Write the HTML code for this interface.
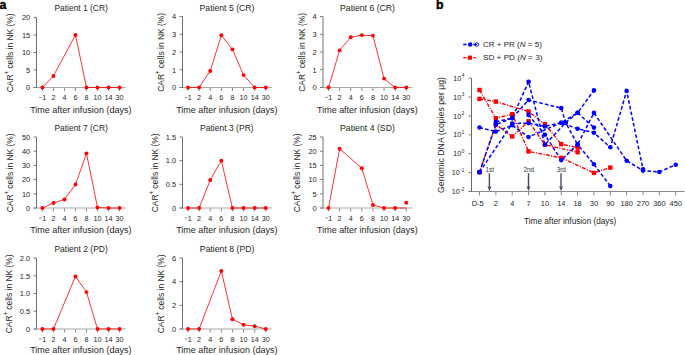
<!DOCTYPE html>
<html><head><meta charset="utf-8"><style>
html,body{margin:0;padding:0;background:#fff;overflow:hidden;width:685px;height:355px;}
svg{display:block;font-family:"Liberation Sans", sans-serif;}
</style></head><body>
<svg width="685" height="355" viewBox="0 0 685 355">
<rect width="685" height="355" fill="#fff"/>
<text x="54.45" y="10.50" font-size="8.4" textLength="53.4" lengthAdjust="spacingAndGlyphs" fill="#231f20">Patient 1 (CR)</text>
<line x1="33.50" y1="87.50" x2="125.80" y2="87.50" stroke="#a8a8a8" stroke-width="1.1"/>
<line x1="36.50" y1="17.40" x2="36.50" y2="88.00" stroke="#707070" stroke-width="1"/>
<line x1="33.50" y1="87.50" x2="36.50" y2="87.50" stroke="#7a7a7a" stroke-width="1"/>
<text x="30.20" y="90.25" font-size="7.7" text-anchor="end" textLength="4.15" lengthAdjust="spacingAndGlyphs" fill="#231f20">0</text>
<line x1="33.50" y1="69.97" x2="36.50" y2="69.97" stroke="#7a7a7a" stroke-width="1"/>
<text x="30.20" y="72.72" font-size="7.7" text-anchor="end" textLength="4.15" lengthAdjust="spacingAndGlyphs" fill="#231f20">5</text>
<line x1="33.50" y1="52.45" x2="36.50" y2="52.45" stroke="#7a7a7a" stroke-width="1"/>
<text x="30.20" y="55.20" font-size="7.7" text-anchor="end" textLength="8.31" lengthAdjust="spacingAndGlyphs" fill="#231f20">10</text>
<line x1="33.50" y1="34.93" x2="36.50" y2="34.93" stroke="#7a7a7a" stroke-width="1"/>
<text x="30.20" y="37.68" font-size="7.7" text-anchor="end" textLength="8.31" lengthAdjust="spacingAndGlyphs" fill="#231f20">15</text>
<line x1="33.50" y1="17.40" x2="36.50" y2="17.40" stroke="#7a7a7a" stroke-width="1"/>
<text x="30.20" y="20.15" font-size="7.7" text-anchor="end" textLength="8.31" lengthAdjust="spacingAndGlyphs" fill="#231f20">20</text>
<line x1="42.40" y1="87.90" x2="42.40" y2="90.90" stroke="#858585" stroke-width="1"/>
<line x1="39.10" y1="97.45" x2="41.70" y2="97.45" stroke="#444" stroke-width="0.6"/>
<text x="42.20" y="100.20" font-size="7.7" textLength="3.98" lengthAdjust="spacingAndGlyphs" fill="#231f20">1</text>
<line x1="53.42" y1="87.90" x2="53.42" y2="90.90" stroke="#858585" stroke-width="1"/>
<text x="53.42" y="100.20" font-size="7.7" text-anchor="middle" textLength="3.98" lengthAdjust="spacingAndGlyphs" fill="#231f20">2</text>
<line x1="64.44" y1="87.90" x2="64.44" y2="90.90" stroke="#858585" stroke-width="1"/>
<text x="64.44" y="100.20" font-size="7.7" text-anchor="middle" textLength="3.98" lengthAdjust="spacingAndGlyphs" fill="#231f20">4</text>
<line x1="75.46" y1="87.90" x2="75.46" y2="90.90" stroke="#858585" stroke-width="1"/>
<text x="75.46" y="100.20" font-size="7.7" text-anchor="middle" textLength="3.98" lengthAdjust="spacingAndGlyphs" fill="#231f20">6</text>
<line x1="86.48" y1="87.90" x2="86.48" y2="90.90" stroke="#858585" stroke-width="1"/>
<text x="86.48" y="100.20" font-size="7.7" text-anchor="middle" textLength="3.98" lengthAdjust="spacingAndGlyphs" fill="#231f20">8</text>
<line x1="97.50" y1="87.90" x2="97.50" y2="90.90" stroke="#858585" stroke-width="1"/>
<text x="97.50" y="100.20" font-size="7.7" text-anchor="middle" textLength="7.96" lengthAdjust="spacingAndGlyphs" fill="#231f20">10</text>
<line x1="108.52" y1="87.90" x2="108.52" y2="90.90" stroke="#858585" stroke-width="1"/>
<text x="108.52" y="100.20" font-size="7.7" text-anchor="middle" textLength="7.96" lengthAdjust="spacingAndGlyphs" fill="#231f20">14</text>
<line x1="119.54" y1="87.90" x2="119.54" y2="90.90" stroke="#858585" stroke-width="1"/>
<text x="119.54" y="100.20" font-size="7.7" text-anchor="middle" textLength="7.96" lengthAdjust="spacingAndGlyphs" fill="#231f20">30</text>
<text x="30.20" y="112.90" font-size="9.2" textLength="101.2" lengthAdjust="spacingAndGlyphs" fill="#231f20">Time after infusion (days)</text>
<text transform="translate(13.00,52.85) rotate(-90)" x="0" y="0" font-size="9" text-anchor="middle" fill="#231f20" textLength="78.8" lengthAdjust="spacingAndGlyphs">CAR<tspan font-size="6.5" dy="-4.0">+</tspan><tspan dy="4.0"> cells in NK (%)</tspan></text>
<polyline fill="none" stroke="#ff0000" stroke-width="0.8" stroke-linejoin="round" points="42.40,87.50 53.42,75.93 75.46,34.93 86.48,87.50 97.50,87.50 108.52,87.50 119.54,87.50"/>
<circle cx="42.40" cy="87.50" r="1.95" fill="#ff0000"/>
<circle cx="53.42" cy="75.93" r="1.95" fill="#ff0000"/>
<circle cx="75.46" cy="34.93" r="1.95" fill="#ff0000"/>
<circle cx="86.48" cy="87.50" r="1.95" fill="#ff0000"/>
<circle cx="97.50" cy="87.50" r="1.95" fill="#ff0000"/>
<circle cx="108.52" cy="87.50" r="1.95" fill="#ff0000"/>
<circle cx="119.54" cy="87.50" r="1.95" fill="#ff0000"/>
<text x="199.55" y="10.50" font-size="8.4" textLength="54.9" lengthAdjust="spacingAndGlyphs" fill="#231f20">Patient 5 (CR)</text>
<line x1="179.50" y1="87.50" x2="271.70" y2="87.50" stroke="#a8a8a8" stroke-width="1.1"/>
<line x1="182.50" y1="16.50" x2="182.50" y2="88.00" stroke="#707070" stroke-width="1"/>
<line x1="179.50" y1="87.50" x2="182.50" y2="87.50" stroke="#7a7a7a" stroke-width="1"/>
<text x="176.20" y="90.25" font-size="7.7" text-anchor="end" textLength="4.15" lengthAdjust="spacingAndGlyphs" fill="#231f20">0</text>
<line x1="179.50" y1="69.75" x2="182.50" y2="69.75" stroke="#7a7a7a" stroke-width="1"/>
<text x="176.20" y="72.50" font-size="7.7" text-anchor="end" textLength="4.15" lengthAdjust="spacingAndGlyphs" fill="#231f20">1</text>
<line x1="179.50" y1="52.00" x2="182.50" y2="52.00" stroke="#7a7a7a" stroke-width="1"/>
<text x="176.20" y="54.75" font-size="7.7" text-anchor="end" textLength="4.15" lengthAdjust="spacingAndGlyphs" fill="#231f20">2</text>
<line x1="179.50" y1="34.25" x2="182.50" y2="34.25" stroke="#7a7a7a" stroke-width="1"/>
<text x="176.20" y="37.00" font-size="7.7" text-anchor="end" textLength="4.15" lengthAdjust="spacingAndGlyphs" fill="#231f20">3</text>
<line x1="179.50" y1="16.50" x2="182.50" y2="16.50" stroke="#7a7a7a" stroke-width="1"/>
<text x="176.20" y="19.25" font-size="7.7" text-anchor="end" textLength="4.15" lengthAdjust="spacingAndGlyphs" fill="#231f20">4</text>
<line x1="188.00" y1="87.90" x2="188.00" y2="90.90" stroke="#858585" stroke-width="1"/>
<line x1="184.70" y1="97.45" x2="187.30" y2="97.45" stroke="#444" stroke-width="0.6"/>
<text x="187.80" y="100.20" font-size="7.7" textLength="3.98" lengthAdjust="spacingAndGlyphs" fill="#231f20">1</text>
<line x1="199.11" y1="87.90" x2="199.11" y2="90.90" stroke="#858585" stroke-width="1"/>
<text x="199.11" y="100.20" font-size="7.7" text-anchor="middle" textLength="3.98" lengthAdjust="spacingAndGlyphs" fill="#231f20">2</text>
<line x1="210.22" y1="87.90" x2="210.22" y2="90.90" stroke="#858585" stroke-width="1"/>
<text x="210.22" y="100.20" font-size="7.7" text-anchor="middle" textLength="3.98" lengthAdjust="spacingAndGlyphs" fill="#231f20">4</text>
<line x1="221.33" y1="87.90" x2="221.33" y2="90.90" stroke="#858585" stroke-width="1"/>
<text x="221.33" y="100.20" font-size="7.7" text-anchor="middle" textLength="3.98" lengthAdjust="spacingAndGlyphs" fill="#231f20">6</text>
<line x1="232.44" y1="87.90" x2="232.44" y2="90.90" stroke="#858585" stroke-width="1"/>
<text x="232.44" y="100.20" font-size="7.7" text-anchor="middle" textLength="3.98" lengthAdjust="spacingAndGlyphs" fill="#231f20">8</text>
<line x1="243.55" y1="87.90" x2="243.55" y2="90.90" stroke="#858585" stroke-width="1"/>
<text x="243.55" y="100.20" font-size="7.7" text-anchor="middle" textLength="7.96" lengthAdjust="spacingAndGlyphs" fill="#231f20">10</text>
<line x1="254.66" y1="87.90" x2="254.66" y2="90.90" stroke="#858585" stroke-width="1"/>
<text x="254.66" y="100.20" font-size="7.7" text-anchor="middle" textLength="7.96" lengthAdjust="spacingAndGlyphs" fill="#231f20">14</text>
<line x1="265.77" y1="87.90" x2="265.77" y2="90.90" stroke="#858585" stroke-width="1"/>
<text x="265.77" y="100.20" font-size="7.7" text-anchor="middle" textLength="7.96" lengthAdjust="spacingAndGlyphs" fill="#231f20">30</text>
<text x="176.20" y="112.90" font-size="9.2" textLength="101.2" lengthAdjust="spacingAndGlyphs" fill="#231f20">Time after infusion (days)</text>
<text transform="translate(164.30,52.40) rotate(-90)" x="0" y="0" font-size="9" text-anchor="middle" fill="#231f20" textLength="78.8" lengthAdjust="spacingAndGlyphs">CAR<tspan font-size="6.5" dy="-4.0">+</tspan><tspan dy="4.0"> cells in NK (%)</tspan></text>
<polyline fill="none" stroke="#ff0000" stroke-width="0.8" stroke-linejoin="round" points="188.00,87.50 199.11,87.50 210.22,70.99 221.33,35.31 232.44,49.34 243.55,75.08 254.66,87.50 265.77,87.50"/>
<circle cx="188.00" cy="87.50" r="1.95" fill="#ff0000"/>
<circle cx="199.11" cy="87.50" r="1.95" fill="#ff0000"/>
<circle cx="210.22" cy="70.99" r="1.95" fill="#ff0000"/>
<circle cx="221.33" cy="35.31" r="1.95" fill="#ff0000"/>
<circle cx="232.44" cy="49.34" r="1.95" fill="#ff0000"/>
<circle cx="243.55" cy="75.08" r="1.95" fill="#ff0000"/>
<circle cx="254.66" cy="87.50" r="1.95" fill="#ff0000"/>
<circle cx="265.77" cy="87.50" r="1.95" fill="#ff0000"/>
<text x="340.05" y="10.50" font-size="8.4" textLength="54.9" lengthAdjust="spacingAndGlyphs" fill="#231f20">Patient 6 (CR)</text>
<line x1="320.00" y1="87.50" x2="412.40" y2="87.50" stroke="#a8a8a8" stroke-width="1.1"/>
<line x1="323.00" y1="16.50" x2="323.00" y2="88.00" stroke="#707070" stroke-width="1"/>
<line x1="320.00" y1="87.50" x2="323.00" y2="87.50" stroke="#7a7a7a" stroke-width="1"/>
<text x="316.70" y="90.25" font-size="7.7" text-anchor="end" textLength="4.15" lengthAdjust="spacingAndGlyphs" fill="#231f20">0</text>
<line x1="320.00" y1="69.75" x2="323.00" y2="69.75" stroke="#7a7a7a" stroke-width="1"/>
<text x="316.70" y="72.50" font-size="7.7" text-anchor="end" textLength="4.15" lengthAdjust="spacingAndGlyphs" fill="#231f20">1</text>
<line x1="320.00" y1="52.00" x2="323.00" y2="52.00" stroke="#7a7a7a" stroke-width="1"/>
<text x="316.70" y="54.75" font-size="7.7" text-anchor="end" textLength="4.15" lengthAdjust="spacingAndGlyphs" fill="#231f20">2</text>
<line x1="320.00" y1="34.25" x2="323.00" y2="34.25" stroke="#7a7a7a" stroke-width="1"/>
<text x="316.70" y="37.00" font-size="7.7" text-anchor="end" textLength="4.15" lengthAdjust="spacingAndGlyphs" fill="#231f20">3</text>
<line x1="320.00" y1="16.50" x2="323.00" y2="16.50" stroke="#7a7a7a" stroke-width="1"/>
<text x="316.70" y="19.25" font-size="7.7" text-anchor="end" textLength="4.15" lengthAdjust="spacingAndGlyphs" fill="#231f20">4</text>
<line x1="328.50" y1="87.90" x2="328.50" y2="90.90" stroke="#858585" stroke-width="1"/>
<line x1="325.20" y1="97.45" x2="327.80" y2="97.45" stroke="#444" stroke-width="0.6"/>
<text x="328.30" y="100.20" font-size="7.7" textLength="3.98" lengthAdjust="spacingAndGlyphs" fill="#231f20">1</text>
<line x1="339.61" y1="87.90" x2="339.61" y2="90.90" stroke="#858585" stroke-width="1"/>
<text x="339.61" y="100.20" font-size="7.7" text-anchor="middle" textLength="3.98" lengthAdjust="spacingAndGlyphs" fill="#231f20">2</text>
<line x1="350.72" y1="87.90" x2="350.72" y2="90.90" stroke="#858585" stroke-width="1"/>
<text x="350.72" y="100.20" font-size="7.7" text-anchor="middle" textLength="3.98" lengthAdjust="spacingAndGlyphs" fill="#231f20">4</text>
<line x1="361.83" y1="87.90" x2="361.83" y2="90.90" stroke="#858585" stroke-width="1"/>
<text x="361.83" y="100.20" font-size="7.7" text-anchor="middle" textLength="3.98" lengthAdjust="spacingAndGlyphs" fill="#231f20">6</text>
<line x1="372.94" y1="87.90" x2="372.94" y2="90.90" stroke="#858585" stroke-width="1"/>
<text x="372.94" y="100.20" font-size="7.7" text-anchor="middle" textLength="3.98" lengthAdjust="spacingAndGlyphs" fill="#231f20">8</text>
<line x1="384.05" y1="87.90" x2="384.05" y2="90.90" stroke="#858585" stroke-width="1"/>
<text x="384.05" y="100.20" font-size="7.7" text-anchor="middle" textLength="7.96" lengthAdjust="spacingAndGlyphs" fill="#231f20">10</text>
<line x1="395.16" y1="87.90" x2="395.16" y2="90.90" stroke="#858585" stroke-width="1"/>
<text x="395.16" y="100.20" font-size="7.7" text-anchor="middle" textLength="7.96" lengthAdjust="spacingAndGlyphs" fill="#231f20">14</text>
<line x1="406.27" y1="87.90" x2="406.27" y2="90.90" stroke="#858585" stroke-width="1"/>
<text x="406.27" y="100.20" font-size="7.7" text-anchor="middle" textLength="7.96" lengthAdjust="spacingAndGlyphs" fill="#231f20">30</text>
<text x="317.10" y="112.90" font-size="9.2" textLength="100.60000000000001" lengthAdjust="spacingAndGlyphs" fill="#231f20">Time after infusion (days)</text>
<text transform="translate(304.70,52.40) rotate(-90)" x="0" y="0" font-size="9" text-anchor="middle" fill="#231f20" textLength="78.8" lengthAdjust="spacingAndGlyphs">CAR<tspan font-size="6.5" dy="-4.0">+</tspan><tspan dy="4.0"> cells in NK (%)</tspan></text>
<polyline fill="none" stroke="#ff0000" stroke-width="0.8" stroke-linejoin="round" points="328.50,87.50 339.61,50.40 350.72,37.27 361.83,35.14 372.94,35.67 384.05,78.62 395.16,87.50 406.27,87.50"/>
<circle cx="328.50" cy="87.50" r="1.95" fill="#ff0000"/>
<circle cx="339.61" cy="50.40" r="1.95" fill="#ff0000"/>
<circle cx="350.72" cy="37.27" r="1.95" fill="#ff0000"/>
<circle cx="361.83" cy="35.14" r="1.95" fill="#ff0000"/>
<circle cx="372.94" cy="35.67" r="1.95" fill="#ff0000"/>
<circle cx="384.05" cy="78.62" r="1.95" fill="#ff0000"/>
<circle cx="395.16" cy="87.50" r="1.95" fill="#ff0000"/>
<circle cx="406.27" cy="87.50" r="1.95" fill="#ff0000"/>
<text x="54.45" y="131.00" font-size="8.4" textLength="53.4" lengthAdjust="spacingAndGlyphs" fill="#231f20">Patient 7 (CR)</text>
<line x1="33.50" y1="208.00" x2="125.80" y2="208.00" stroke="#a8a8a8" stroke-width="1.1"/>
<line x1="36.50" y1="137.00" x2="36.50" y2="208.50" stroke="#707070" stroke-width="1"/>
<line x1="33.50" y1="208.00" x2="36.50" y2="208.00" stroke="#7a7a7a" stroke-width="1"/>
<text x="30.20" y="210.75" font-size="7.7" text-anchor="end" textLength="4.15" lengthAdjust="spacingAndGlyphs" fill="#231f20">0</text>
<line x1="33.50" y1="193.80" x2="36.50" y2="193.80" stroke="#7a7a7a" stroke-width="1"/>
<text x="30.20" y="196.55" font-size="7.7" text-anchor="end" textLength="8.31" lengthAdjust="spacingAndGlyphs" fill="#231f20">10</text>
<line x1="33.50" y1="179.60" x2="36.50" y2="179.60" stroke="#7a7a7a" stroke-width="1"/>
<text x="30.20" y="182.35" font-size="7.7" text-anchor="end" textLength="8.31" lengthAdjust="spacingAndGlyphs" fill="#231f20">20</text>
<line x1="33.50" y1="165.40" x2="36.50" y2="165.40" stroke="#7a7a7a" stroke-width="1"/>
<text x="30.20" y="168.15" font-size="7.7" text-anchor="end" textLength="8.31" lengthAdjust="spacingAndGlyphs" fill="#231f20">30</text>
<line x1="33.50" y1="151.20" x2="36.50" y2="151.20" stroke="#7a7a7a" stroke-width="1"/>
<text x="30.20" y="153.95" font-size="7.7" text-anchor="end" textLength="8.31" lengthAdjust="spacingAndGlyphs" fill="#231f20">40</text>
<line x1="33.50" y1="137.00" x2="36.50" y2="137.00" stroke="#7a7a7a" stroke-width="1"/>
<text x="30.20" y="139.75" font-size="7.7" text-anchor="end" textLength="8.31" lengthAdjust="spacingAndGlyphs" fill="#231f20">50</text>
<line x1="42.40" y1="208.40" x2="42.40" y2="211.40" stroke="#858585" stroke-width="1"/>
<line x1="39.10" y1="217.95" x2="41.70" y2="217.95" stroke="#444" stroke-width="0.6"/>
<text x="42.20" y="220.70" font-size="7.7" textLength="3.98" lengthAdjust="spacingAndGlyphs" fill="#231f20">1</text>
<line x1="53.42" y1="208.40" x2="53.42" y2="211.40" stroke="#858585" stroke-width="1"/>
<text x="53.42" y="220.70" font-size="7.7" text-anchor="middle" textLength="3.98" lengthAdjust="spacingAndGlyphs" fill="#231f20">2</text>
<line x1="64.44" y1="208.40" x2="64.44" y2="211.40" stroke="#858585" stroke-width="1"/>
<text x="64.44" y="220.70" font-size="7.7" text-anchor="middle" textLength="3.98" lengthAdjust="spacingAndGlyphs" fill="#231f20">4</text>
<line x1="75.46" y1="208.40" x2="75.46" y2="211.40" stroke="#858585" stroke-width="1"/>
<text x="75.46" y="220.70" font-size="7.7" text-anchor="middle" textLength="3.98" lengthAdjust="spacingAndGlyphs" fill="#231f20">6</text>
<line x1="86.48" y1="208.40" x2="86.48" y2="211.40" stroke="#858585" stroke-width="1"/>
<text x="86.48" y="220.70" font-size="7.7" text-anchor="middle" textLength="3.98" lengthAdjust="spacingAndGlyphs" fill="#231f20">8</text>
<line x1="97.50" y1="208.40" x2="97.50" y2="211.40" stroke="#858585" stroke-width="1"/>
<text x="97.50" y="220.70" font-size="7.7" text-anchor="middle" textLength="7.96" lengthAdjust="spacingAndGlyphs" fill="#231f20">10</text>
<line x1="108.52" y1="208.40" x2="108.52" y2="211.40" stroke="#858585" stroke-width="1"/>
<text x="108.52" y="220.70" font-size="7.7" text-anchor="middle" textLength="7.96" lengthAdjust="spacingAndGlyphs" fill="#231f20">14</text>
<line x1="119.54" y1="208.40" x2="119.54" y2="211.40" stroke="#858585" stroke-width="1"/>
<text x="119.54" y="220.70" font-size="7.7" text-anchor="middle" textLength="7.96" lengthAdjust="spacingAndGlyphs" fill="#231f20">30</text>
<text x="30.20" y="233.40" font-size="9.2" textLength="101.2" lengthAdjust="spacingAndGlyphs" fill="#231f20">Time after infusion (days)</text>
<text transform="translate(13.00,172.90) rotate(-90)" x="0" y="0" font-size="9" text-anchor="middle" fill="#231f20" textLength="78.8" lengthAdjust="spacingAndGlyphs">CAR<tspan font-size="6.5" dy="-4.0">+</tspan><tspan dy="4.0"> cells in NK (%)</tspan></text>
<polyline fill="none" stroke="#ff0000" stroke-width="0.8" stroke-linejoin="round" points="42.40,208.00 53.42,203.03 64.44,199.48 75.46,184.57 86.48,153.33 97.50,207.43 108.52,208.00 119.54,208.00"/>
<circle cx="42.40" cy="208.00" r="1.95" fill="#ff0000"/>
<circle cx="53.42" cy="203.03" r="1.95" fill="#ff0000"/>
<circle cx="64.44" cy="199.48" r="1.95" fill="#ff0000"/>
<circle cx="75.46" cy="184.57" r="1.95" fill="#ff0000"/>
<circle cx="86.48" cy="153.33" r="1.95" fill="#ff0000"/>
<circle cx="97.50" cy="207.43" r="1.95" fill="#ff0000"/>
<circle cx="108.52" cy="208.00" r="1.95" fill="#ff0000"/>
<circle cx="119.54" cy="208.00" r="1.95" fill="#ff0000"/>
<text x="200.05" y="131.00" font-size="8.4" textLength="53.6" lengthAdjust="spacingAndGlyphs" fill="#231f20">Patient 3 (PR)</text>
<line x1="179.50" y1="208.00" x2="271.70" y2="208.00" stroke="#a8a8a8" stroke-width="1.1"/>
<line x1="182.50" y1="137.00" x2="182.50" y2="208.50" stroke="#707070" stroke-width="1"/>
<line x1="179.50" y1="208.00" x2="182.50" y2="208.00" stroke="#7a7a7a" stroke-width="1"/>
<text x="176.20" y="210.75" font-size="7.7" text-anchor="end" textLength="4.15" lengthAdjust="spacingAndGlyphs" fill="#231f20">0</text>
<line x1="179.50" y1="184.33" x2="182.50" y2="184.33" stroke="#7a7a7a" stroke-width="1"/>
<text x="176.20" y="187.08" font-size="7.7" text-anchor="end" textLength="10.38" lengthAdjust="spacingAndGlyphs" fill="#231f20">0.5</text>
<line x1="179.50" y1="160.67" x2="182.50" y2="160.67" stroke="#7a7a7a" stroke-width="1"/>
<text x="176.20" y="163.42" font-size="7.7" text-anchor="end" textLength="10.38" lengthAdjust="spacingAndGlyphs" fill="#231f20">1.0</text>
<line x1="179.50" y1="137.00" x2="182.50" y2="137.00" stroke="#7a7a7a" stroke-width="1"/>
<text x="176.20" y="139.75" font-size="7.7" text-anchor="end" textLength="10.38" lengthAdjust="spacingAndGlyphs" fill="#231f20">1.5</text>
<line x1="188.00" y1="208.40" x2="188.00" y2="211.40" stroke="#858585" stroke-width="1"/>
<line x1="184.70" y1="217.95" x2="187.30" y2="217.95" stroke="#444" stroke-width="0.6"/>
<text x="187.80" y="220.70" font-size="7.7" textLength="3.98" lengthAdjust="spacingAndGlyphs" fill="#231f20">1</text>
<line x1="199.11" y1="208.40" x2="199.11" y2="211.40" stroke="#858585" stroke-width="1"/>
<text x="199.11" y="220.70" font-size="7.7" text-anchor="middle" textLength="3.98" lengthAdjust="spacingAndGlyphs" fill="#231f20">2</text>
<line x1="210.22" y1="208.40" x2="210.22" y2="211.40" stroke="#858585" stroke-width="1"/>
<text x="210.22" y="220.70" font-size="7.7" text-anchor="middle" textLength="3.98" lengthAdjust="spacingAndGlyphs" fill="#231f20">4</text>
<line x1="221.33" y1="208.40" x2="221.33" y2="211.40" stroke="#858585" stroke-width="1"/>
<text x="221.33" y="220.70" font-size="7.7" text-anchor="middle" textLength="3.98" lengthAdjust="spacingAndGlyphs" fill="#231f20">6</text>
<line x1="232.44" y1="208.40" x2="232.44" y2="211.40" stroke="#858585" stroke-width="1"/>
<text x="232.44" y="220.70" font-size="7.7" text-anchor="middle" textLength="3.98" lengthAdjust="spacingAndGlyphs" fill="#231f20">8</text>
<line x1="243.55" y1="208.40" x2="243.55" y2="211.40" stroke="#858585" stroke-width="1"/>
<text x="243.55" y="220.70" font-size="7.7" text-anchor="middle" textLength="7.96" lengthAdjust="spacingAndGlyphs" fill="#231f20">10</text>
<line x1="254.66" y1="208.40" x2="254.66" y2="211.40" stroke="#858585" stroke-width="1"/>
<text x="254.66" y="220.70" font-size="7.7" text-anchor="middle" textLength="7.96" lengthAdjust="spacingAndGlyphs" fill="#231f20">14</text>
<line x1="265.77" y1="208.40" x2="265.77" y2="211.40" stroke="#858585" stroke-width="1"/>
<text x="265.77" y="220.70" font-size="7.7" text-anchor="middle" textLength="7.96" lengthAdjust="spacingAndGlyphs" fill="#231f20">30</text>
<text x="176.20" y="233.40" font-size="9.2" textLength="101.2" lengthAdjust="spacingAndGlyphs" fill="#231f20">Time after infusion (days)</text>
<text transform="translate(157.70,172.90) rotate(-90)" x="0" y="0" font-size="9" text-anchor="middle" fill="#231f20" textLength="78.8" lengthAdjust="spacingAndGlyphs">CAR<tspan font-size="6.5" dy="-4.0">+</tspan><tspan dy="4.0"> cells in NK (%)</tspan></text>
<polyline fill="none" stroke="#ff0000" stroke-width="0.8" stroke-linejoin="round" points="188.00,208.00 199.11,208.00 210.22,180.07 221.33,160.67 232.44,208.00 243.55,208.00 254.66,208.00 265.77,208.00"/>
<circle cx="188.00" cy="208.00" r="1.95" fill="#ff0000"/>
<circle cx="199.11" cy="208.00" r="1.95" fill="#ff0000"/>
<circle cx="210.22" cy="180.07" r="1.95" fill="#ff0000"/>
<circle cx="221.33" cy="160.67" r="1.95" fill="#ff0000"/>
<circle cx="232.44" cy="208.00" r="1.95" fill="#ff0000"/>
<circle cx="243.55" cy="208.00" r="1.95" fill="#ff0000"/>
<circle cx="254.66" cy="208.00" r="1.95" fill="#ff0000"/>
<circle cx="265.77" cy="208.00" r="1.95" fill="#ff0000"/>
<text x="340.05" y="131.00" font-size="8.4" textLength="54.8" lengthAdjust="spacingAndGlyphs" fill="#231f20">Patient 4 (SD)</text>
<line x1="320.00" y1="208.00" x2="412.40" y2="208.00" stroke="#a8a8a8" stroke-width="1.1"/>
<line x1="323.00" y1="137.00" x2="323.00" y2="208.50" stroke="#707070" stroke-width="1"/>
<line x1="320.00" y1="208.00" x2="323.00" y2="208.00" stroke="#7a7a7a" stroke-width="1"/>
<text x="316.70" y="210.75" font-size="7.7" text-anchor="end" textLength="4.15" lengthAdjust="spacingAndGlyphs" fill="#231f20">0</text>
<line x1="320.00" y1="193.80" x2="323.00" y2="193.80" stroke="#7a7a7a" stroke-width="1"/>
<text x="316.70" y="196.55" font-size="7.7" text-anchor="end" textLength="4.15" lengthAdjust="spacingAndGlyphs" fill="#231f20">5</text>
<line x1="320.00" y1="179.60" x2="323.00" y2="179.60" stroke="#7a7a7a" stroke-width="1"/>
<text x="316.70" y="182.35" font-size="7.7" text-anchor="end" textLength="8.31" lengthAdjust="spacingAndGlyphs" fill="#231f20">10</text>
<line x1="320.00" y1="165.40" x2="323.00" y2="165.40" stroke="#7a7a7a" stroke-width="1"/>
<text x="316.70" y="168.15" font-size="7.7" text-anchor="end" textLength="8.31" lengthAdjust="spacingAndGlyphs" fill="#231f20">15</text>
<line x1="320.00" y1="151.20" x2="323.00" y2="151.20" stroke="#7a7a7a" stroke-width="1"/>
<text x="316.70" y="153.95" font-size="7.7" text-anchor="end" textLength="8.31" lengthAdjust="spacingAndGlyphs" fill="#231f20">20</text>
<line x1="320.00" y1="137.00" x2="323.00" y2="137.00" stroke="#7a7a7a" stroke-width="1"/>
<text x="316.70" y="139.75" font-size="7.7" text-anchor="end" textLength="8.31" lengthAdjust="spacingAndGlyphs" fill="#231f20">25</text>
<line x1="328.50" y1="208.40" x2="328.50" y2="211.40" stroke="#858585" stroke-width="1"/>
<line x1="325.20" y1="217.95" x2="327.80" y2="217.95" stroke="#444" stroke-width="0.6"/>
<text x="328.30" y="220.70" font-size="7.7" textLength="3.98" lengthAdjust="spacingAndGlyphs" fill="#231f20">1</text>
<line x1="339.61" y1="208.40" x2="339.61" y2="211.40" stroke="#858585" stroke-width="1"/>
<text x="339.61" y="220.70" font-size="7.7" text-anchor="middle" textLength="3.98" lengthAdjust="spacingAndGlyphs" fill="#231f20">2</text>
<line x1="350.72" y1="208.40" x2="350.72" y2="211.40" stroke="#858585" stroke-width="1"/>
<text x="350.72" y="220.70" font-size="7.7" text-anchor="middle" textLength="3.98" lengthAdjust="spacingAndGlyphs" fill="#231f20">4</text>
<line x1="361.83" y1="208.40" x2="361.83" y2="211.40" stroke="#858585" stroke-width="1"/>
<text x="361.83" y="220.70" font-size="7.7" text-anchor="middle" textLength="3.98" lengthAdjust="spacingAndGlyphs" fill="#231f20">6</text>
<line x1="372.94" y1="208.40" x2="372.94" y2="211.40" stroke="#858585" stroke-width="1"/>
<text x="372.94" y="220.70" font-size="7.7" text-anchor="middle" textLength="3.98" lengthAdjust="spacingAndGlyphs" fill="#231f20">8</text>
<line x1="384.05" y1="208.40" x2="384.05" y2="211.40" stroke="#858585" stroke-width="1"/>
<text x="384.05" y="220.70" font-size="7.7" text-anchor="middle" textLength="7.96" lengthAdjust="spacingAndGlyphs" fill="#231f20">10</text>
<line x1="395.16" y1="208.40" x2="395.16" y2="211.40" stroke="#858585" stroke-width="1"/>
<text x="395.16" y="220.70" font-size="7.7" text-anchor="middle" textLength="7.96" lengthAdjust="spacingAndGlyphs" fill="#231f20">14</text>
<line x1="406.27" y1="208.40" x2="406.27" y2="211.40" stroke="#858585" stroke-width="1"/>
<text x="406.27" y="220.70" font-size="7.7" text-anchor="middle" textLength="7.96" lengthAdjust="spacingAndGlyphs" fill="#231f20">30</text>
<text x="317.10" y="233.40" font-size="9.2" textLength="100.60000000000001" lengthAdjust="spacingAndGlyphs" fill="#231f20">Time after infusion (days)</text>
<text transform="translate(299.70,172.90) rotate(-90)" x="0" y="0" font-size="9" text-anchor="middle" fill="#231f20" textLength="78.8" lengthAdjust="spacingAndGlyphs">CAR<tspan font-size="6.5" dy="-4.0">+</tspan><tspan dy="4.0"> cells in NK (%)</tspan></text>
<polyline fill="none" stroke="#ff0000" stroke-width="0.8" stroke-linejoin="round" points="328.50,208.00 339.61,148.79 361.83,168.24 372.94,204.99 384.05,208.00 395.16,208.00 406.27,208.00"/>
<circle cx="328.50" cy="208.00" r="1.95" fill="#ff0000"/>
<circle cx="339.61" cy="148.79" r="1.95" fill="#ff0000"/>
<circle cx="361.83" cy="168.24" r="1.95" fill="#ff0000"/>
<circle cx="372.94" cy="204.99" r="1.95" fill="#ff0000"/>
<circle cx="384.05" cy="208.00" r="1.95" fill="#ff0000"/>
<circle cx="395.16" cy="208.00" r="1.95" fill="#ff0000"/>
<circle cx="406.27" cy="202.77" r="1.95" fill="#ff0000"/>
<text x="54.45" y="252.00" font-size="8.4" textLength="53.4" lengthAdjust="spacingAndGlyphs" fill="#231f20">Patient 2 (PD)</text>
<line x1="33.50" y1="329.00" x2="125.80" y2="329.00" stroke="#a8a8a8" stroke-width="1.1"/>
<line x1="36.50" y1="258.00" x2="36.50" y2="329.50" stroke="#707070" stroke-width="1"/>
<line x1="33.50" y1="329.00" x2="36.50" y2="329.00" stroke="#7a7a7a" stroke-width="1"/>
<text x="30.20" y="331.75" font-size="7.7" text-anchor="end" textLength="4.15" lengthAdjust="spacingAndGlyphs" fill="#231f20">0</text>
<line x1="33.50" y1="311.25" x2="36.50" y2="311.25" stroke="#7a7a7a" stroke-width="1"/>
<text x="30.20" y="314.00" font-size="7.7" text-anchor="end" textLength="10.38" lengthAdjust="spacingAndGlyphs" fill="#231f20">0.5</text>
<line x1="33.50" y1="293.50" x2="36.50" y2="293.50" stroke="#7a7a7a" stroke-width="1"/>
<text x="30.20" y="296.25" font-size="7.7" text-anchor="end" textLength="10.38" lengthAdjust="spacingAndGlyphs" fill="#231f20">1.0</text>
<line x1="33.50" y1="275.75" x2="36.50" y2="275.75" stroke="#7a7a7a" stroke-width="1"/>
<text x="30.20" y="278.50" font-size="7.7" text-anchor="end" textLength="10.38" lengthAdjust="spacingAndGlyphs" fill="#231f20">1.5</text>
<line x1="33.50" y1="258.00" x2="36.50" y2="258.00" stroke="#7a7a7a" stroke-width="1"/>
<text x="30.20" y="260.75" font-size="7.7" text-anchor="end" textLength="10.38" lengthAdjust="spacingAndGlyphs" fill="#231f20">2.0</text>
<line x1="42.40" y1="329.40" x2="42.40" y2="332.40" stroke="#858585" stroke-width="1"/>
<line x1="39.10" y1="338.95" x2="41.70" y2="338.95" stroke="#444" stroke-width="0.6"/>
<text x="42.20" y="341.70" font-size="7.7" textLength="3.98" lengthAdjust="spacingAndGlyphs" fill="#231f20">1</text>
<line x1="53.42" y1="329.40" x2="53.42" y2="332.40" stroke="#858585" stroke-width="1"/>
<text x="53.42" y="341.70" font-size="7.7" text-anchor="middle" textLength="3.98" lengthAdjust="spacingAndGlyphs" fill="#231f20">2</text>
<line x1="64.44" y1="329.40" x2="64.44" y2="332.40" stroke="#858585" stroke-width="1"/>
<text x="64.44" y="341.70" font-size="7.7" text-anchor="middle" textLength="3.98" lengthAdjust="spacingAndGlyphs" fill="#231f20">4</text>
<line x1="75.46" y1="329.40" x2="75.46" y2="332.40" stroke="#858585" stroke-width="1"/>
<text x="75.46" y="341.70" font-size="7.7" text-anchor="middle" textLength="3.98" lengthAdjust="spacingAndGlyphs" fill="#231f20">6</text>
<line x1="86.48" y1="329.40" x2="86.48" y2="332.40" stroke="#858585" stroke-width="1"/>
<text x="86.48" y="341.70" font-size="7.7" text-anchor="middle" textLength="3.98" lengthAdjust="spacingAndGlyphs" fill="#231f20">8</text>
<line x1="97.50" y1="329.40" x2="97.50" y2="332.40" stroke="#858585" stroke-width="1"/>
<text x="97.50" y="341.70" font-size="7.7" text-anchor="middle" textLength="7.96" lengthAdjust="spacingAndGlyphs" fill="#231f20">10</text>
<line x1="108.52" y1="329.40" x2="108.52" y2="332.40" stroke="#858585" stroke-width="1"/>
<text x="108.52" y="341.70" font-size="7.7" text-anchor="middle" textLength="7.96" lengthAdjust="spacingAndGlyphs" fill="#231f20">14</text>
<line x1="119.54" y1="329.40" x2="119.54" y2="332.40" stroke="#858585" stroke-width="1"/>
<text x="119.54" y="341.70" font-size="7.7" text-anchor="middle" textLength="7.96" lengthAdjust="spacingAndGlyphs" fill="#231f20">30</text>
<text x="30.20" y="353.40" font-size="9.2" textLength="101.2" lengthAdjust="spacingAndGlyphs" fill="#231f20">Time after infusion (days)</text>
<text transform="translate(12.00,293.90) rotate(-90)" x="0" y="0" font-size="9" text-anchor="middle" fill="#231f20" textLength="78.8" lengthAdjust="spacingAndGlyphs">CAR<tspan font-size="6.5" dy="-4.0">+</tspan><tspan dy="4.0"> cells in NK (%)</tspan></text>
<polyline fill="none" stroke="#ff0000" stroke-width="0.8" stroke-linejoin="round" points="42.40,329.00 53.42,329.00 75.46,276.46 86.48,292.08 97.50,329.00 108.52,329.00 119.54,329.00"/>
<circle cx="42.40" cy="329.00" r="1.95" fill="#ff0000"/>
<circle cx="53.42" cy="329.00" r="1.95" fill="#ff0000"/>
<circle cx="75.46" cy="276.46" r="1.95" fill="#ff0000"/>
<circle cx="86.48" cy="292.08" r="1.95" fill="#ff0000"/>
<circle cx="97.50" cy="329.00" r="1.95" fill="#ff0000"/>
<circle cx="108.52" cy="329.00" r="1.95" fill="#ff0000"/>
<circle cx="119.54" cy="329.00" r="1.95" fill="#ff0000"/>
<text x="199.85" y="252.00" font-size="8.4" textLength="54.5" lengthAdjust="spacingAndGlyphs" fill="#231f20">Patient 8 (PD)</text>
<line x1="179.50" y1="329.00" x2="271.70" y2="329.00" stroke="#a8a8a8" stroke-width="1.1"/>
<line x1="182.50" y1="258.00" x2="182.50" y2="329.50" stroke="#707070" stroke-width="1"/>
<line x1="179.50" y1="329.00" x2="182.50" y2="329.00" stroke="#7a7a7a" stroke-width="1"/>
<text x="176.20" y="331.75" font-size="7.7" text-anchor="end" textLength="4.15" lengthAdjust="spacingAndGlyphs" fill="#231f20">0</text>
<line x1="179.50" y1="305.33" x2="182.50" y2="305.33" stroke="#7a7a7a" stroke-width="1"/>
<text x="176.20" y="308.08" font-size="7.7" text-anchor="end" textLength="4.15" lengthAdjust="spacingAndGlyphs" fill="#231f20">2</text>
<line x1="179.50" y1="281.67" x2="182.50" y2="281.67" stroke="#7a7a7a" stroke-width="1"/>
<text x="176.20" y="284.42" font-size="7.7" text-anchor="end" textLength="4.15" lengthAdjust="spacingAndGlyphs" fill="#231f20">4</text>
<line x1="179.50" y1="258.00" x2="182.50" y2="258.00" stroke="#7a7a7a" stroke-width="1"/>
<text x="176.20" y="260.75" font-size="7.7" text-anchor="end" textLength="4.15" lengthAdjust="spacingAndGlyphs" fill="#231f20">6</text>
<line x1="188.00" y1="329.40" x2="188.00" y2="332.40" stroke="#858585" stroke-width="1"/>
<line x1="184.70" y1="338.95" x2="187.30" y2="338.95" stroke="#444" stroke-width="0.6"/>
<text x="187.80" y="341.70" font-size="7.7" textLength="3.98" lengthAdjust="spacingAndGlyphs" fill="#231f20">1</text>
<line x1="199.11" y1="329.40" x2="199.11" y2="332.40" stroke="#858585" stroke-width="1"/>
<text x="199.11" y="341.70" font-size="7.7" text-anchor="middle" textLength="3.98" lengthAdjust="spacingAndGlyphs" fill="#231f20">2</text>
<line x1="210.22" y1="329.40" x2="210.22" y2="332.40" stroke="#858585" stroke-width="1"/>
<text x="210.22" y="341.70" font-size="7.7" text-anchor="middle" textLength="3.98" lengthAdjust="spacingAndGlyphs" fill="#231f20">4</text>
<line x1="221.33" y1="329.40" x2="221.33" y2="332.40" stroke="#858585" stroke-width="1"/>
<text x="221.33" y="341.70" font-size="7.7" text-anchor="middle" textLength="3.98" lengthAdjust="spacingAndGlyphs" fill="#231f20">6</text>
<line x1="232.44" y1="329.40" x2="232.44" y2="332.40" stroke="#858585" stroke-width="1"/>
<text x="232.44" y="341.70" font-size="7.7" text-anchor="middle" textLength="3.98" lengthAdjust="spacingAndGlyphs" fill="#231f20">8</text>
<line x1="243.55" y1="329.40" x2="243.55" y2="332.40" stroke="#858585" stroke-width="1"/>
<text x="243.55" y="341.70" font-size="7.7" text-anchor="middle" textLength="7.96" lengthAdjust="spacingAndGlyphs" fill="#231f20">10</text>
<line x1="254.66" y1="329.40" x2="254.66" y2="332.40" stroke="#858585" stroke-width="1"/>
<text x="254.66" y="341.70" font-size="7.7" text-anchor="middle" textLength="7.96" lengthAdjust="spacingAndGlyphs" fill="#231f20">14</text>
<line x1="265.77" y1="329.40" x2="265.77" y2="332.40" stroke="#858585" stroke-width="1"/>
<text x="265.77" y="341.70" font-size="7.7" text-anchor="middle" textLength="7.96" lengthAdjust="spacingAndGlyphs" fill="#231f20">30</text>
<text x="176.20" y="353.40" font-size="9.2" textLength="101.2" lengthAdjust="spacingAndGlyphs" fill="#231f20">Time after infusion (days)</text>
<text transform="translate(164.20,293.90) rotate(-90)" x="0" y="0" font-size="9" text-anchor="middle" fill="#231f20" textLength="78.8" lengthAdjust="spacingAndGlyphs">CAR<tspan font-size="6.5" dy="-4.0">+</tspan><tspan dy="4.0"> cells in NK (%)</tspan></text>
<polyline fill="none" stroke="#ff0000" stroke-width="0.8" stroke-linejoin="round" points="188.00,329.00 199.11,329.00 221.33,271.02 232.44,319.18 243.55,324.74 254.66,326.16 265.77,329.00"/>
<circle cx="188.00" cy="329.00" r="1.95" fill="#ff0000"/>
<circle cx="199.11" cy="329.00" r="1.95" fill="#ff0000"/>
<circle cx="221.33" cy="271.02" r="1.95" fill="#ff0000"/>
<circle cx="232.44" cy="319.18" r="1.95" fill="#ff0000"/>
<circle cx="243.55" cy="324.74" r="1.95" fill="#ff0000"/>
<circle cx="254.66" cy="326.16" r="1.95" fill="#ff0000"/>
<circle cx="265.77" cy="329.00" r="1.95" fill="#ff0000"/>
<text x="-0.40" y="8.90" font-size="12.3" font-weight="bold" fill="#000" stroke="#000" stroke-width="0.4">a</text>
<text x="436.00" y="8.90" font-size="12.3" font-weight="bold" fill="#000" stroke="#000" stroke-width="0.4">b</text>
<line x1="468.50" y1="191.50" x2="684.50" y2="191.50" stroke="#8a8a8a" stroke-width="1"/>
<line x1="471.50" y1="78.20" x2="471.50" y2="192.00" stroke="#6a6a6a" stroke-width="1"/>
<line x1="468.50" y1="78.20" x2="471.50" y2="78.20" stroke="#7a7a7a" stroke-width="1"/>
<text x="464.4" y="80.80" font-size="7.2" text-anchor="end" fill="#231f20">10<tspan font-size="4.6" dy="-3.4" dx="0.5">4</tspan></text>
<line x1="468.50" y1="97.08" x2="471.50" y2="97.08" stroke="#7a7a7a" stroke-width="1"/>
<text x="464.4" y="99.68" font-size="7.2" text-anchor="end" fill="#231f20">10<tspan font-size="4.6" dy="-3.4" dx="0.5">3</tspan></text>
<line x1="468.50" y1="115.97" x2="471.50" y2="115.97" stroke="#7a7a7a" stroke-width="1"/>
<text x="464.4" y="118.57" font-size="7.2" text-anchor="end" fill="#231f20">10<tspan font-size="4.6" dy="-3.4" dx="0.5">2</tspan></text>
<line x1="468.50" y1="134.85" x2="471.50" y2="134.85" stroke="#7a7a7a" stroke-width="1"/>
<text x="464.4" y="137.45" font-size="7.2" text-anchor="end" fill="#231f20">10<tspan font-size="4.6" dy="-3.4" dx="0.5">1</tspan></text>
<line x1="468.50" y1="153.73" x2="471.50" y2="153.73" stroke="#7a7a7a" stroke-width="1"/>
<text x="464.4" y="156.33" font-size="7.2" text-anchor="end" fill="#231f20">10<tspan font-size="4.6" dy="-3.4" dx="0.5">0</tspan></text>
<line x1="468.50" y1="172.62" x2="471.50" y2="172.62" stroke="#7a7a7a" stroke-width="1"/>
<text x="464.4" y="175.22" font-size="7.2" text-anchor="end" fill="#231f20">10<tspan font-size="4.6" dy="-3.4" dx="0.5">-1</tspan></text>
<line x1="468.50" y1="191.50" x2="471.50" y2="191.50" stroke="#7a7a7a" stroke-width="1"/>
<text x="464.4" y="194.10" font-size="7.2" text-anchor="end" fill="#231f20">10<tspan font-size="4.6" dy="-3.4" dx="0.5">-2</tspan></text>
<line x1="479.50" y1="191.90" x2="479.50" y2="195.30" stroke="#858585" stroke-width="1"/>
<text x="477.70" y="205.60" font-size="7.4" text-anchor="middle" fill="#231f20">D-5</text>
<line x1="495.85" y1="191.90" x2="495.85" y2="195.30" stroke="#858585" stroke-width="1"/>
<text x="495.85" y="205.60" font-size="7.4" text-anchor="middle" fill="#231f20">2</text>
<line x1="512.20" y1="191.90" x2="512.20" y2="195.30" stroke="#858585" stroke-width="1"/>
<text x="512.20" y="205.60" font-size="7.4" text-anchor="middle" fill="#231f20">4</text>
<line x1="528.55" y1="191.90" x2="528.55" y2="195.30" stroke="#858585" stroke-width="1"/>
<text x="528.55" y="205.60" font-size="7.4" text-anchor="middle" fill="#231f20">7</text>
<line x1="544.90" y1="191.90" x2="544.90" y2="195.30" stroke="#858585" stroke-width="1"/>
<text x="544.90" y="205.60" font-size="7.4" text-anchor="middle" fill="#231f20">10</text>
<line x1="561.25" y1="191.90" x2="561.25" y2="195.30" stroke="#858585" stroke-width="1"/>
<text x="561.25" y="205.60" font-size="7.4" text-anchor="middle" fill="#231f20">14</text>
<line x1="577.60" y1="191.90" x2="577.60" y2="195.30" stroke="#858585" stroke-width="1"/>
<text x="577.60" y="205.60" font-size="7.4" text-anchor="middle" fill="#231f20">18</text>
<line x1="593.95" y1="191.90" x2="593.95" y2="195.30" stroke="#858585" stroke-width="1"/>
<text x="593.95" y="205.60" font-size="7.4" text-anchor="middle" fill="#231f20">30</text>
<line x1="610.30" y1="191.90" x2="610.30" y2="195.30" stroke="#858585" stroke-width="1"/>
<text x="610.30" y="205.60" font-size="7.4" text-anchor="middle" fill="#231f20">90</text>
<line x1="626.65" y1="191.90" x2="626.65" y2="195.30" stroke="#858585" stroke-width="1"/>
<text x="626.65" y="205.60" font-size="7.4" text-anchor="middle" fill="#231f20">180</text>
<line x1="643.00" y1="191.90" x2="643.00" y2="195.30" stroke="#858585" stroke-width="1"/>
<text x="643.00" y="205.60" font-size="7.4" text-anchor="middle" fill="#231f20">270</text>
<line x1="659.35" y1="191.90" x2="659.35" y2="195.30" stroke="#858585" stroke-width="1"/>
<text x="659.35" y="205.60" font-size="7.4" text-anchor="middle" fill="#231f20">360</text>
<line x1="675.70" y1="191.90" x2="675.70" y2="195.30" stroke="#858585" stroke-width="1"/>
<text x="675.70" y="205.60" font-size="7.4" text-anchor="middle" fill="#231f20">450</text>
<text x="570.20" y="224.00" font-size="8.3" text-anchor="middle" textLength="92.2" lengthAdjust="spacingAndGlyphs" fill="#231f20">Time after infusion (days)</text>
<text transform="translate(443.9,135.0) rotate(-90)" x="0" y="0" font-size="8.8" text-anchor="middle" fill="#231f20" textLength="116" lengthAdjust="spacingAndGlyphs">Genomic DNA (copies per μg)</text>
<line x1="489.40" y1="173.20" x2="489.40" y2="188.00" stroke="#3f4d63" stroke-width="1.4"/>
<path d="M487.40,186.00 L489.40,191.30 L491.40,186.00 L489.40,187.20 Z" fill="#3f4d63"/>
<text x="489.70" y="171.80" font-size="6.4" text-anchor="middle" fill="#333">1st</text>
<line x1="528.50" y1="173.20" x2="528.50" y2="188.00" stroke="#3f4d63" stroke-width="1.4"/>
<path d="M526.50,186.00 L528.50,191.30 L530.50,186.00 L528.50,187.20 Z" fill="#3f4d63"/>
<text x="528.80" y="171.80" font-size="6.4" text-anchor="middle" fill="#333">2nd</text>
<line x1="561.00" y1="173.20" x2="561.00" y2="188.00" stroke="#3f4d63" stroke-width="1.4"/>
<path d="M559.00,186.00 L561.00,191.30 L563.00,186.00 L561.00,187.20 Z" fill="#3f4d63"/>
<text x="561.30" y="171.80" font-size="6.4" text-anchor="middle" fill="#333">3rd</text>
<polyline fill="none" stroke="#ff0000" stroke-width="1.4" stroke-dasharray="3.8 1.4 1.1 1.4" points="479.50,90.00 495.85,118.20 512.20,114.20 528.55,151.40 561.25,157.80 593.95,172.90 610.30,167.60"/>
<polyline fill="none" stroke="#ff0000" stroke-width="1.4" stroke-dasharray="3.8 1.4 1.1 1.4" points="479.50,98.90 495.85,101.60 528.55,111.50 544.90,124.20 561.25,144.10 577.60,147.60"/>
<polyline fill="none" stroke="#ff0000" stroke-width="1.4" stroke-dasharray="3.8 1.4 1.1 1.4" points="479.50,172.20 495.85,124.60 512.20,136.40 528.55,121.30 544.90,144.70 577.60,152.20"/>
<polyline fill="none" stroke="#0000ff" stroke-width="1.5" stroke-dasharray="3.6 2.2" points="479.50,127.50 495.85,131.60 512.20,125.30 528.55,137.00 561.25,122.70 577.60,128.70 593.95,132.70 610.30,147.30 626.65,90.90 643.00,169.30"/>
<polyline fill="none" stroke="#0000ff" stroke-width="1.5" stroke-dasharray="3.6 2.2" points="479.50,172.20 495.85,124.60 512.20,118.10 528.55,81.80 544.90,144.70 565.66,122.70 577.60,112.80 593.95,90.40"/>
<polyline fill="none" stroke="#0000ff" stroke-width="1.5" stroke-dasharray="3.6 2.2" points="479.50,172.20 512.20,123.60 528.55,123.10 544.90,126.40 561.25,122.70 577.60,112.80 593.95,127.60"/>
<polyline fill="none" stroke="#0000ff" stroke-width="1.5" stroke-dasharray="3.6 2.2" points="495.85,121.70 512.20,118.10 528.55,100.00 561.25,108.10 565.66,122.70 577.60,144.50 593.95,112.90 626.65,160.70 643.00,170.60 659.35,172.00 675.70,164.70"/>
<polyline fill="none" stroke="#0000ff" stroke-width="1.5" stroke-dasharray="3.6 2.2" points="528.55,114.90 544.90,134.80 561.25,160.10 577.60,144.50 593.95,164.30 610.30,186.00"/>
<rect x="477.30" y="87.80" width="4.4" height="4.4" fill="#ff0000"/>
<rect x="493.65" y="116.00" width="4.4" height="4.4" fill="#ff0000"/>
<rect x="510.00" y="112.00" width="4.4" height="4.4" fill="#ff0000"/>
<rect x="526.35" y="149.20" width="4.4" height="4.4" fill="#ff0000"/>
<rect x="559.05" y="155.60" width="4.4" height="4.4" fill="#ff0000"/>
<rect x="591.75" y="170.70" width="4.4" height="4.4" fill="#ff0000"/>
<rect x="608.10" y="165.40" width="4.4" height="4.4" fill="#ff0000"/>
<rect x="477.30" y="96.70" width="4.4" height="4.4" fill="#ff0000"/>
<rect x="493.65" y="99.40" width="4.4" height="4.4" fill="#ff0000"/>
<rect x="526.35" y="109.30" width="4.4" height="4.4" fill="#ff0000"/>
<rect x="542.70" y="122.00" width="4.4" height="4.4" fill="#ff0000"/>
<rect x="559.05" y="141.90" width="4.4" height="4.4" fill="#ff0000"/>
<rect x="575.40" y="145.40" width="4.4" height="4.4" fill="#ff0000"/>
<rect x="477.30" y="170.00" width="4.4" height="4.4" fill="#ff0000"/>
<rect x="493.65" y="122.40" width="4.4" height="4.4" fill="#ff0000"/>
<rect x="510.00" y="134.20" width="4.4" height="4.4" fill="#ff0000"/>
<rect x="526.35" y="119.10" width="4.4" height="4.4" fill="#ff0000"/>
<rect x="542.70" y="142.50" width="4.4" height="4.4" fill="#ff0000"/>
<rect x="575.40" y="150.00" width="4.4" height="4.4" fill="#ff0000"/>
<circle cx="479.50" cy="127.50" r="2.3" fill="#0000ff"/>
<circle cx="495.85" cy="131.60" r="2.3" fill="#0000ff"/>
<circle cx="512.20" cy="125.30" r="2.3" fill="#0000ff"/>
<circle cx="528.55" cy="137.00" r="2.3" fill="#0000ff"/>
<circle cx="561.25" cy="122.70" r="2.3" fill="#0000ff"/>
<circle cx="577.60" cy="128.70" r="2.3" fill="#0000ff"/>
<circle cx="593.95" cy="132.70" r="2.3" fill="#0000ff"/>
<circle cx="610.30" cy="147.30" r="2.3" fill="#0000ff"/>
<circle cx="626.65" cy="90.90" r="2.3" fill="#0000ff"/>
<circle cx="643.00" cy="169.30" r="2.3" fill="#0000ff"/>
<circle cx="479.50" cy="172.20" r="2.3" fill="#0000ff"/>
<circle cx="495.85" cy="124.60" r="2.3" fill="#0000ff"/>
<circle cx="512.20" cy="118.10" r="2.3" fill="#0000ff"/>
<circle cx="528.55" cy="81.80" r="2.3" fill="#0000ff"/>
<circle cx="544.90" cy="144.70" r="2.3" fill="#0000ff"/>
<circle cx="565.66" cy="122.70" r="2.3" fill="#0000ff"/>
<circle cx="577.60" cy="112.80" r="2.3" fill="#0000ff"/>
<circle cx="593.95" cy="90.40" r="2.3" fill="#0000ff"/>
<circle cx="479.50" cy="172.20" r="2.3" fill="#0000ff"/>
<circle cx="512.20" cy="123.60" r="2.3" fill="#0000ff"/>
<circle cx="528.55" cy="123.10" r="2.3" fill="#0000ff"/>
<circle cx="544.90" cy="126.40" r="2.3" fill="#0000ff"/>
<circle cx="561.25" cy="122.70" r="2.3" fill="#0000ff"/>
<circle cx="577.60" cy="112.80" r="2.3" fill="#0000ff"/>
<circle cx="593.95" cy="127.60" r="2.3" fill="#0000ff"/>
<circle cx="495.85" cy="121.70" r="2.3" fill="#0000ff"/>
<circle cx="512.20" cy="118.10" r="2.3" fill="#0000ff"/>
<circle cx="528.55" cy="100.00" r="2.3" fill="#0000ff"/>
<circle cx="561.25" cy="108.10" r="2.3" fill="#0000ff"/>
<circle cx="565.66" cy="122.70" r="2.3" fill="#0000ff"/>
<circle cx="577.60" cy="144.50" r="2.3" fill="#0000ff"/>
<circle cx="593.95" cy="112.90" r="2.3" fill="#0000ff"/>
<circle cx="626.65" cy="160.70" r="2.3" fill="#0000ff"/>
<circle cx="643.00" cy="170.60" r="2.3" fill="#0000ff"/>
<circle cx="659.35" cy="172.00" r="2.3" fill="#0000ff"/>
<circle cx="675.70" cy="164.70" r="2.3" fill="#0000ff"/>
<circle cx="528.55" cy="114.90" r="2.3" fill="#0000ff"/>
<circle cx="544.90" cy="134.80" r="2.3" fill="#0000ff"/>
<circle cx="561.25" cy="160.10" r="2.3" fill="#0000ff"/>
<circle cx="577.60" cy="144.50" r="2.3" fill="#0000ff"/>
<circle cx="593.95" cy="164.30" r="2.3" fill="#0000ff"/>
<circle cx="610.30" cy="186.00" r="2.3" fill="#0000ff"/>
<line x1="463.2" y1="44.5" x2="476.5" y2="44.5" stroke="#0000ff" stroke-width="1.3" stroke-dasharray="3.4 1.6"/>
<circle cx="470.2" cy="44.5" r="2.2" fill="#0000ff"/>
<circle cx="476.7" cy="44.5" r="1.85" fill="#fff" stroke="#0000ff" stroke-width="0.9"/>
<path d="M474.9,43.1 L477.4,44.5 L474.9,45.9 Z" fill="#0000ff"/>
<line x1="463.2" y1="57.6" x2="475.8" y2="57.6" stroke="#ff0000" stroke-width="1.3" stroke-dasharray="3.3 1.2 1 0"/>
<rect x="467.8" y="55.6" width="4.2" height="4.1" fill="#ff0000"/>
<text x="483.0" y="47.4" font-size="8.1" fill="#231f20" textLength="58.9" lengthAdjust="spacingAndGlyphs">CR + PR (<tspan font-style="italic">N</tspan> = 5)</text>
<text x="483.0" y="59.6" font-size="8.1" fill="#231f20" textLength="59.4" lengthAdjust="spacingAndGlyphs">SD + PD (<tspan font-style="italic">N</tspan> = 3)</text>
</svg>
</body></html>
